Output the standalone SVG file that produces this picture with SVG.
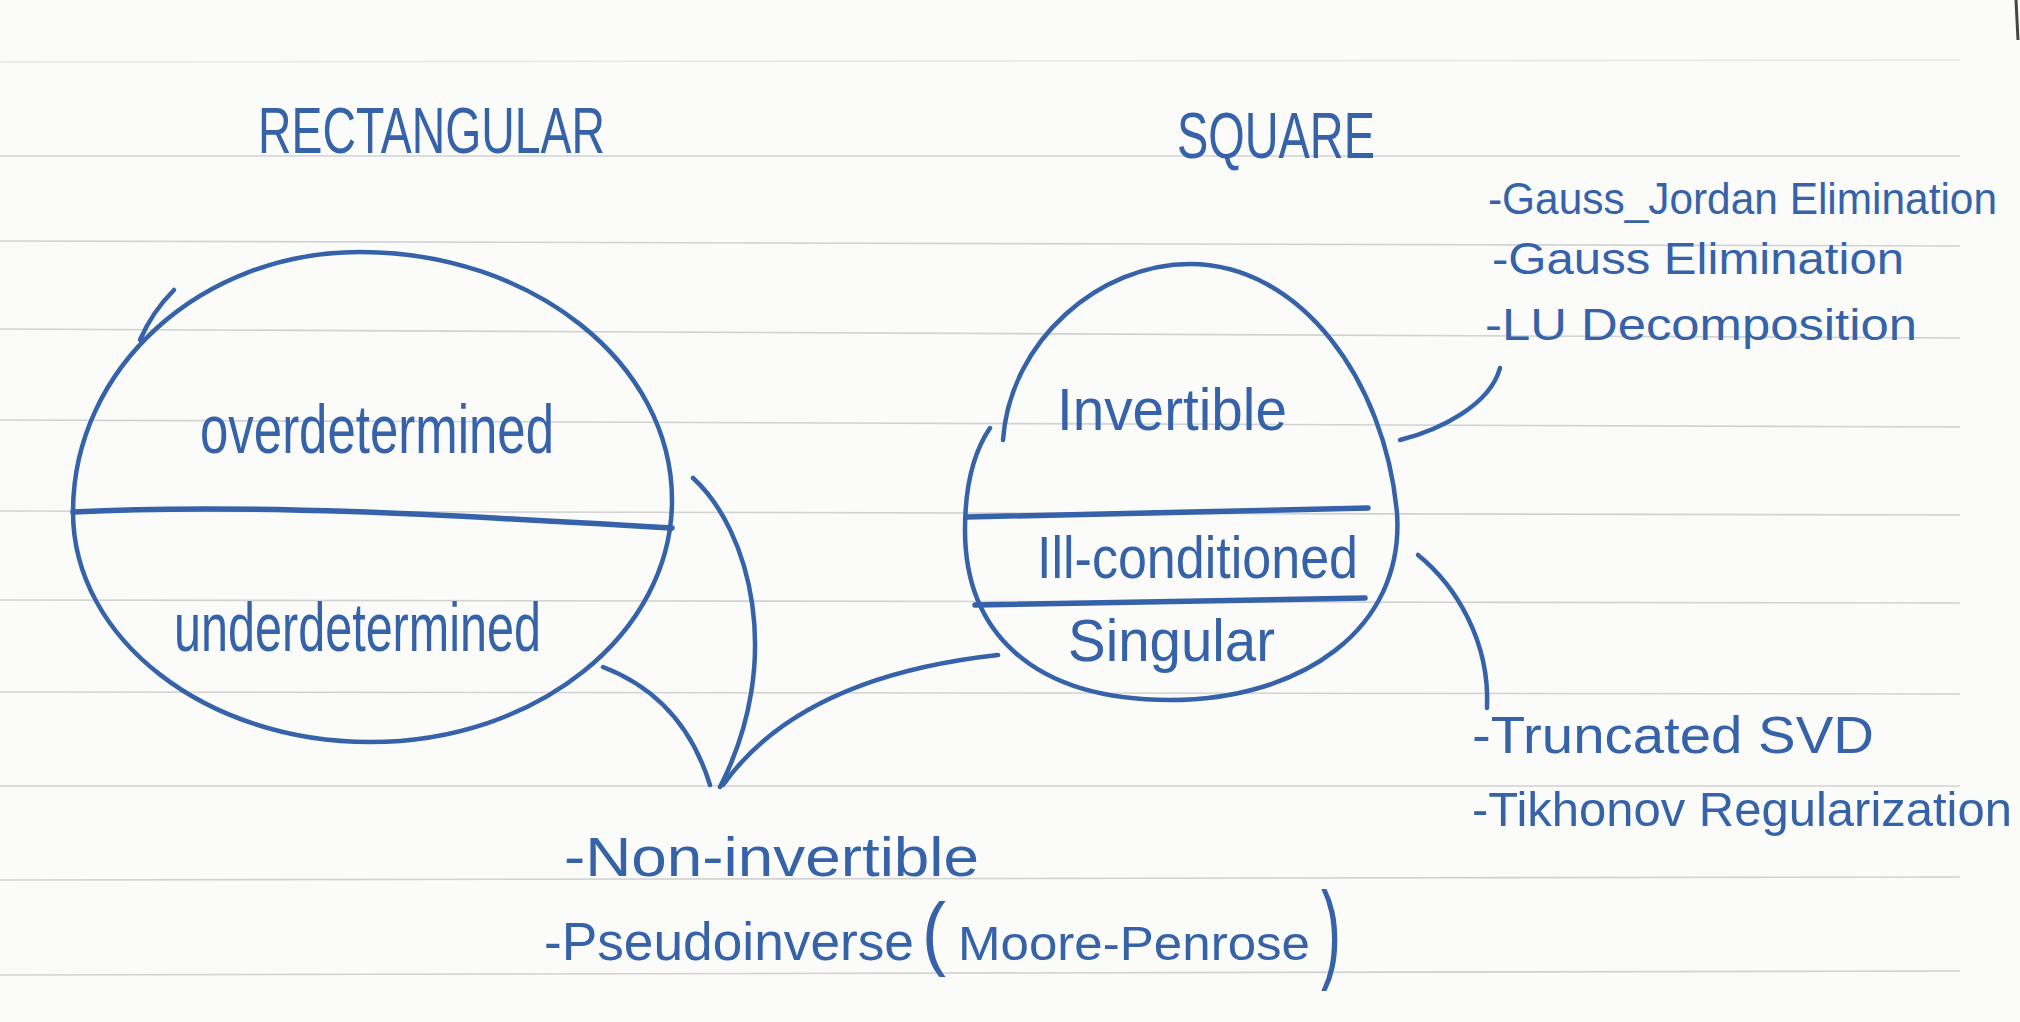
<svg xmlns="http://www.w3.org/2000/svg" width="2020" height="1022" viewBox="0 0 2020 1022">
  <style>
    .ink { fill: none; stroke: #3562a8; stroke-width: 4.5; stroke-linecap: round; stroke-linejoin: round; }
    .bold { stroke-width: 5.5; }
    .rule { stroke: #d2d2d2; stroke-width: 1.6; }
    .t { font-family: "Liberation Sans", "DejaVu Sans", sans-serif; fill: #3562a8; }
    .title { font-size: 64px; }
    .big { font-size: 68px; }
    .mid { font-size: 60px; }
    .list { font-size: 44px; }
    .list2 { font-size: 52px; }
  </style>
  <rect x="0" y="0" width="2020" height="1022" fill="#fbfbfa"/>
  <g id="paper-rules">
    <line class="rule" x1="0" y1="62" x2="1960" y2="60" opacity="0.5"/>
    <line class="rule" x1="0" y1="156" x2="1960" y2="156"/>
    <line class="rule" x1="0" y1="241" x2="1960" y2="246"/>
    <line class="rule" x1="0" y1="329" x2="1960" y2="338"/>
    <line class="rule" x1="0" y1="420" x2="1960" y2="427"/>
    <line class="rule" x1="0" y1="511" x2="1960" y2="515"/>
    <line class="rule" x1="0" y1="600" x2="1960" y2="603"/>
    <line class="rule" x1="0" y1="692" x2="1960" y2="694"/>
    <line class="rule" x1="0" y1="786" x2="1960" y2="786"/>
    <line class="rule" x1="0" y1="880" x2="1960" y2="877"/>
    <line class="rule" x1="0" y1="975" x2="1960" y2="971"/>
    <line x1="2016" y1="0" x2="2018" y2="40" stroke="#444" stroke-width="3"/>
  </g>

  <g id="title-rectangular">
    <text class="t title" x="258" y="153" textLength="347" lengthAdjust="spacingAndGlyphs">RECTANGULAR</text>
  </g>
  <g id="title-square">
    <text class="t title" x="1177" y="158" textLength="198" lengthAdjust="spacingAndGlyphs">SQUARE</text>
  </g>

  <g id="node-rectangular">
    <path class="ink" d="M73,512 C73,368 201,252 360,252 C532,252 672,363 672,500 C672,634 537,742 370,742 C206,742 73,639 73,512 Z"/>
    <path class="ink" d="M140,340 Q152,312 174,290"/>
    <path class="ink bold" d="M73,512 C250,503 450,515 672,528"/>
    <text class="t big" x="200" y="453" textLength="354" lengthAdjust="spacingAndGlyphs">overdetermined</text>
    <text class="t big" x="174" y="651" textLength="367" lengthAdjust="spacingAndGlyphs">underdetermined</text>
  </g>

  <g id="node-square">
    <path class="ink" d="M1003,440 C1010,340 1100,264 1190,264 C1300,264 1385,380 1397,513 C1405,630 1300,700 1170,700 C1030,700 965,630 965,530 C965,480 975,450 990,428"/>
    <path class="ink bold" d="M967,517 L1368,508"/>
    <path class="ink bold" d="M975,605 L1365,598"/>
    <text class="t mid" x="1057" y="430" textLength="230" lengthAdjust="spacingAndGlyphs">Invertible</text>
    <text class="t mid" x="1037" y="578" textLength="321" lengthAdjust="spacingAndGlyphs">Ill-conditioned</text>
    <text class="t mid" x="1068" y="661" textLength="207" lengthAdjust="spacingAndGlyphs">Singular</text>
  </g>

  <g id="connectors">
    <path class="ink" d="M693,478 C750,530 785,660 720,787"/>
    <path class="ink" d="M603,667 C650,685 690,720 710,785"/>
    <path class="ink" d="M998,655 C880,668 780,705 723,785"/>
    <path class="ink" d="M1400,440 C1440,430 1490,405 1500,368"/>
    <path class="ink" d="M1418,555 C1455,585 1490,640 1487,708"/>
  </g>

  <g id="list-invertible">
    <text class="t list" x="1488" y="214" textLength="509" lengthAdjust="spacingAndGlyphs">-Gauss_Jordan Elimination</text>
    <text class="t list" x="1492" y="274" textLength="412" lengthAdjust="spacingAndGlyphs">-Gauss Elimination</text>
    <text class="t list" x="1485" y="340" textLength="432" lengthAdjust="spacingAndGlyphs">-LU Decomposition</text>
  </g>

  <g id="list-illconditioned">
    <text class="t list2" x="1472" y="753" textLength="402" lengthAdjust="spacingAndGlyphs">-Truncated SVD</text>
    <text class="t" font-size="48" x="1472" y="826" textLength="540" lengthAdjust="spacingAndGlyphs">-Tikhonov Regularization</text>
  </g>

  <g id="list-noninvertible">
    <text class="t" font-size="56" x="564" y="876" textLength="415" lengthAdjust="spacingAndGlyphs">-Non-invertible</text>
    <text class="t" font-size="54" y="960"><tspan x="544" textLength="370" lengthAdjust="spacingAndGlyphs">-Pseudoinverse</tspan><tspan x="922" font-size="82" textLength="24" lengthAdjust="spacingAndGlyphs">(</tspan><tspan x="958" font-size="49" textLength="352" lengthAdjust="spacingAndGlyphs">Moore-Penrose</tspan><tspan x="1321" y="968" font-size="110" textLength="20" lengthAdjust="spacingAndGlyphs">)</tspan></text>
  </g>
</svg>
